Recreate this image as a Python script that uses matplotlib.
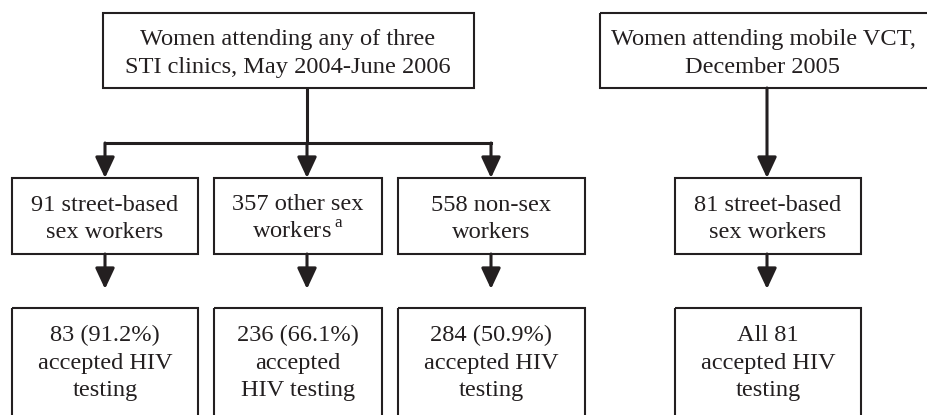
import matplotlib
matplotlib.use("Agg")
import matplotlib.pyplot as plt
from matplotlib.patches import Rectangle, FancyArrowPatch

plt.rcParams["font.family"] = ["Liberation Serif", "DejaVu Serif"]
plt.rcParams["mathtext.fontset"] = "custom"
plt.rcParams["mathtext.rm"] = "Liberation Serif"

# box texts
source_texts = [
    "Women attending any of three\nSTI clinics, May 2004-June 2006",
    "Women attending mobile VCT,\nDecember 2005",
]
group_counts = [91, 357, 558, 81]
group_labels = [
    "street-based\nsex workers",
    "other sex\nworkers$\\,^{\\mathrm{a}}$",
    "non-sex\nworkers",
    "street-based\nsex workers",
]
accepted_counts = [83, 236, 284, 81]
accepted_pct = [91.2, 66.1, 50.9, None]
accepted_tails = [
    "accepted HIV\ntesting",
    "accepted\nHIV testing",
    "accepted HIV\ntesting",
    "accepted HIV\ntesting",
]

W, H = 928, 415
fig = plt.figure(figsize=(W / 100, H / 100), dpi=100)
ax = fig.add_axes([0, 0, 1, 1])
ax.set_xlim(0, W)
ax.set_ylim(H, 0)
ax.axis("off")

ink = "#231f20"
fs = 17.6
ls = 1.4
box_lw = 1.5
arrow_lw = 2.2


def arrow(x, y0, y1):
    ax.add_patch(FancyArrowPatch((x, y0), (x, y1), arrowstyle="-|>,head_length=0.9,head_width=0.42",
                                 mutation_scale=14, color=ink, lw=arrow_lw,
                                 shrinkA=0, shrinkB=0))


# top boxes
top_boxes = [(103, 13, 474, 88), (600, 13, 940, 88)]
text_cx = [288, 763]
for (x0, y0, x1, y1), t, cx in zip(top_boxes, source_texts, text_cx):
    ax.add_patch(Rectangle((x0, y0), x1 - x0, y1 - y0, fill=False, ec=ink, lw=box_lw))
    ax.text(cx, (y0 + y1) / 2 + 3, t, ha="center", va="center", fontsize=fs,
            color=ink, linespacing=ls)

# middle and bottom boxes
cols = [(12, 198), (214, 382), (398, 585), (675, 861)]
arrow_x = [105, 307, 491, 767]
mid_y = (178, 254)
bot_y = (308, 440)

for i, (x0, x1) in enumerate(cols):
    cx = (x0 + x1) / 2
    ax.add_patch(Rectangle((x0, mid_y[0]), x1 - x0, mid_y[1] - mid_y[0],
                           fill=False, ec=ink, lw=box_lw))
    ax.text(cx, (mid_y[0] + mid_y[1]) / 2 + 3, f"{group_counts[i]} {group_labels[i]}",
            ha="center", va="center", fontsize=fs, color=ink, linespacing=ls)

    ax.add_patch(Rectangle((x0, bot_y[0]), x1 - x0, bot_y[1] - bot_y[0],
                           fill=False, ec=ink, lw=box_lw))
    if accepted_pct[i] is None:
        head = f"All {accepted_counts[i]}"
    else:
        head = f"{accepted_counts[i]} ({accepted_pct[i]:.1f}%)"
    ax.text(cx, 363, head + "\n" + accepted_tails[i], ha="center", va="center",
            fontsize=fs, color=ink, linespacing=ls)

    arrow(arrow_x[i], mid_y[1], 289)

# connectors from the clinic box
split_y = 143
ax.plot([307, 307], [88, split_y], color=ink, lw=arrow_lw, solid_capstyle="butt")
ax.plot([arrow_x[0], arrow_x[2]], [split_y, split_y], color=ink, lw=arrow_lw,
        solid_capstyle="projecting")
for x in arrow_x[:3]:
    arrow(x, split_y, mid_y[0])
arrow(arrow_x[3], 88, mid_y[0])

fig.savefig("out.png", dpi=100, facecolor="white")
